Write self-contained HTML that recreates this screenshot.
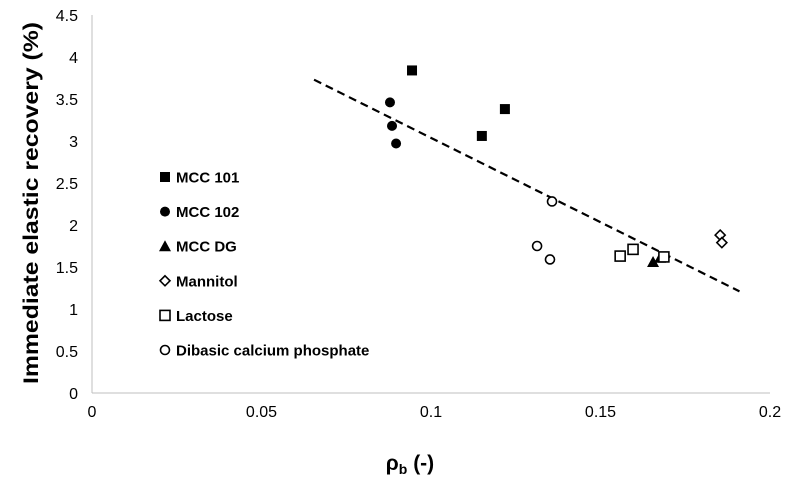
<!DOCTYPE html>
<html><head><meta charset="utf-8"><style>
body{margin:0;background:#fff;font-family:"Liberation Sans",sans-serif}
svg text{font-family:"Liberation Sans",sans-serif}
</style></head><body>
<svg id="c" width="792" height="480"></svg>
<script>
const xTicks=[0,0.05,0.1,0.15,0.2];
const xTickLabels=["0","0.05","0.1","0.15","0.2"];
const yTicks=[0,0.5,1,1.5,2,2.5,3,3.5,4,4.5];
const yTickLabels=["0","0.5","1","1.5","2","2.5","3","3.5","4","4.5"];
const seriesNames=["MCC 101","MCC 102","MCC DG","Mannitol","Lactose","Dibasic calcium phosphate"];
const mcc101X=[0.0944,0.1218,0.115];const mcc101Y=[3.84,3.38,3.06];
const mcc102X=[0.0879,0.0885,0.0897];const mcc102Y=[3.46,3.18,2.97];
const mccdgX=[0.1655,0.1676];const mccdgY=[1.56,1.61];
const mannX=[0.1853,0.1858];const mannY=[1.88,1.79];
const lactX=[0.1558,0.1596,0.1687];const lactY=[1.63,1.71,1.62];
const dcpX=[0.1357,0.1313,0.1351];const dcpY=[2.28,1.75,1.59];
const trendX=[0.0655,0.191];const trendY=[3.73,1.21];
const svg=document.getElementById('c');const NS='http://www.w3.org/2000/svg';
const X=v=>92+v/0.2*678, Y=v=>393-v/4.5*378;
function mk(t,a,p){const e=document.createElementNS(NS,t);for(const k in a)e.setAttribute(k,a[k]);(p||svg).appendChild(e);return e;}
let e;
e=mk('line',{x1:92,y1:393,x2:770,y2:393,stroke:'#bfbfbf','stroke-width':1});


e=mk('line',{x1:92,y1:15,x2:92,y2:393,stroke:'#bfbfbf','stroke-width':1});


xTicks.forEach((v,i)=>{e=mk('text',{x:X(v),y:417,'text-anchor':'middle','font-size':16,fill:'#000'});e.textContent=xTickLabels[i];

});
yTicks.forEach((v,i)=>{e=mk('text',{x:78,y:Y(v)+6,'text-anchor':'end','font-size':16,fill:'#000'});e.textContent=yTickLabels[i];

});
e=mk('text',{x:0,y:0,transform:'translate(38,203) rotate(-90)','text-anchor':'middle','font-size':21,'font-weight':'bold',textLength:362,lengthAdjust:'spacingAndGlyphs'});e.textContent='Immediate elastic recovery (%)';


e=mk('text',{x:410,y:470,'text-anchor':'middle','font-size':21,'font-weight':'bold'});e.innerHTML='ρ<tspan font-size="14" dy="4">b</tspan><tspan dy="-4"> (-)</tspan>';


e=mk('line',{x1:X(trendX[0]),y1:Y(trendY[0]),x2:X(trendX[1]),y2:Y(trendY[1]),stroke:'#000','stroke-width':2.2,'stroke-dasharray':'8,5'});


function marker(type,cx,cy){
 if(type==='sq')return mk('rect',{x:cx-5,y:cy-5,width:10,height:10,fill:'#000'});
 if(type==='ci')return mk('circle',{cx:cx,cy:cy,r:5,fill:'#000'});
 if(type==='tr')return mk('polygon',{points:`${cx-6},${cy+5} ${cx+6},${cy+5} ${cx},${cy-6}`,fill:'#000'});
 if(type==='di')return mk('polygon',{points:`${cx},${cy-5} ${cx+5},${cy} ${cx},${cy+5} ${cx-5},${cy}`,fill:'#fff',stroke:'#000','stroke-width':1.6});
 if(type==='os')return mk('rect',{x:cx-5,y:cy-5,width:10,height:10,fill:'#fff',stroke:'#000','stroke-width':1.6});
 return mk('circle',{cx:cx,cy:cy,r:4.5,fill:'#fff',stroke:'#000','stroke-width':1.6});
}
const sets=[['sq',mcc101X,mcc101Y,'mcc101'],['ci',mcc102X,mcc102Y,'mcc102'],['tr',mccdgX,mccdgY,'mccdg'],['di',mannX,mannY,'mannitol'],['os',lactX,lactY,'lactose'],['oc',dcpX,dcpY,'dcp']];
sets.forEach((s,si)=>{
 s[1].forEach((v,i)=>{e=marker(s[0],X(v),Y(s[2][i]));
 
 });
 const ly=177+si*34.6;
 e=marker(s[0],165,ly);
 
 
 e=mk('text',{x:176,y:ly+5.5,'font-size':15,'font-weight':'bold'});e.textContent=seriesNames[si];
 
 
});
</script>
</body></html>
